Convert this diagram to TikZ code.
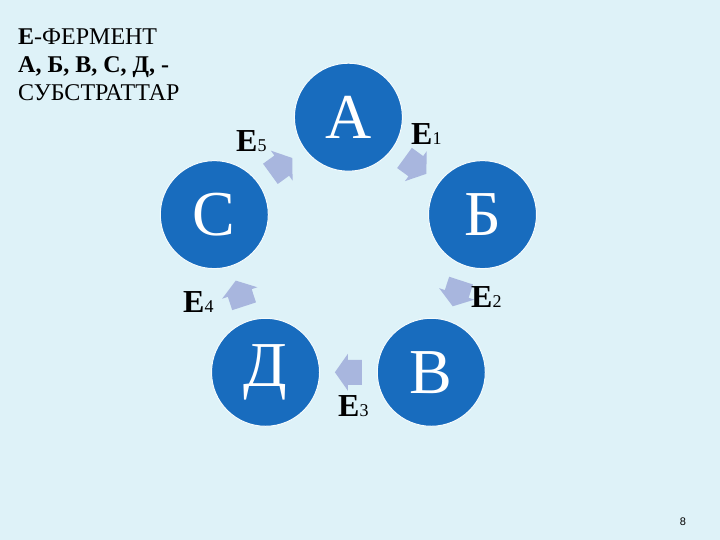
\documentclass[tikz,border=0pt]{standalone}
\usepackage{fontspec}
\setmainfont{Liberation Serif}
\setsansfont{Liberation Sans}
\usetikzlibrary{decorations.markings}
\definecolor{bgblue}{RGB}{222,242,248}
\definecolor{ringblue}{RGB}{24,108,190}
\definecolor{arrgray}{RGB}{168,182,222}
\newcommand\enzyme[1]{\textbf{E}{\fontsize{18}{18}\selectfont #1}}
\tikzset{x=1pt, y=1pt,
  subst/.style={circle, fill=ringblue, draw=white!70!bgblue, line width=1pt,
    minimum size=108pt, inner sep=0pt, text=white,
    font=\fontsize{64}{64}\selectfont},
  cyc/.style={decorate, decoration={markings, mark=at position 0.5 with
    {\fill[arrgray] (-13.5,-12.5) -- (0.5,-12.5) -- (0.5,-18.5) -- (13.5,0)
      -- (0.5,18.5) -- (0.5,12.5) -- (-13.5,12.5) -- cycle;}}},
  enz/.style={anchor=base west, inner sep=0pt, font=\fontsize{32}{32}\selectfont}}

\begin{document}
\begin{tikzpicture}
  \fill[bgblue] (0,0) rectangle (720,540);
  \coordinate (O) at (348.4,281.8);

  \node[subst] (A) at ([shift={(90:141)}]O) {А};
  \node[subst] (B) at ([shift={(18:141)}]O) {Б};
  \node[subst] (V) at ([shift={(-54:141)}]O) {В};
  \node[subst] (D) at ([shift={(-126:141)}]O) {Д};
  \node[subst] (S) at ([shift={(162:141)}]O) {С};

  \path[cyc] (A) -- (B);
  \path[cyc] (B) -- (V);
  \path[cyc] (V) -- (D);
  \path[cyc] (D) -- (S);
  \path[cyc] (S) -- (A);

  \node[enz] (E1) at (411,395) {\enzyme{1}};
  \node[enz] (E2) at (471,232) {\enzyme{2}};
  \node[enz] (E3) at (338,123) {\enzyme{3}};
  \node[enz] (E4) at (183,227) {\enzyme{4}};
  \node[enz] (E5) at (236,388) {\enzyme{5}};

  \node[anchor=north west, align=left, inner sep=0pt,
    font=\fontsize{24}{28}\selectfont] (legend) at (18,511)
    {\textbf{Е}-ФЕРМЕНТ\\ \textbf{А, Б, В, С, Д, -}\\ СУБСТРАТТАР};
  \node[font=\sffamily\fontsize{11}{11}\selectfont] (page) at (683,18) {8};
\end{tikzpicture}
\end{document}
